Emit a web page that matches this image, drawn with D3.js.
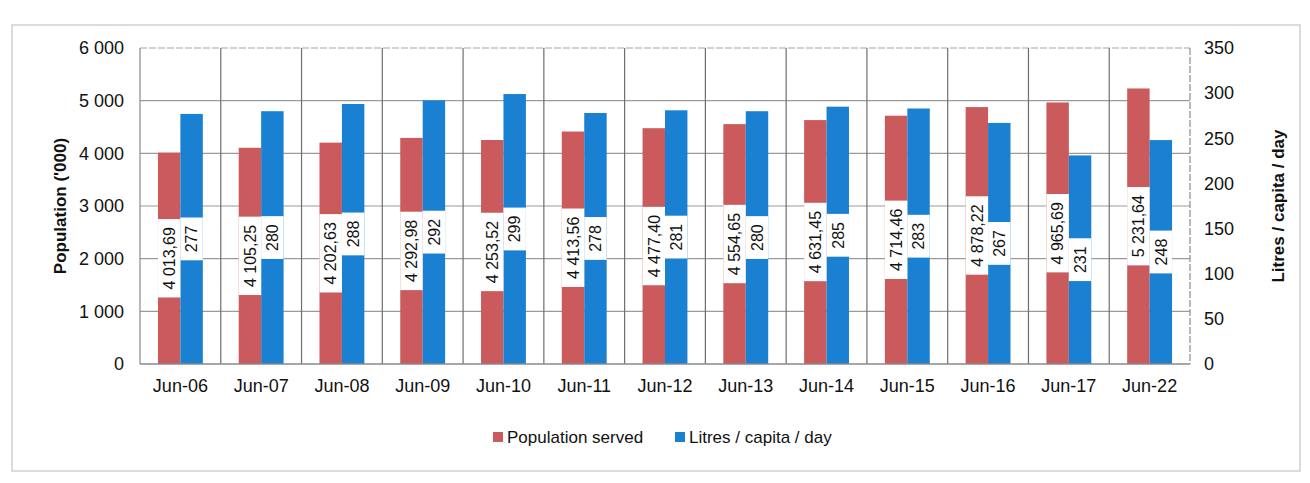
<!DOCTYPE html>
<html lang="en">
<head>
<meta charset="UTF-8">
<style>
  body { margin: 0; background: #fff; }
  svg { display: block; }
  text { font-family: "Liberation Sans", Arial, sans-serif; fill: #111; }
</style>
</head>
<body>
<script src="https://d3js.org/d3.v7.min.js"></script>
<script>
// categories and series
var months = ["Jun-06", "Jun-07", "Jun-08", "Jun-09", "Jun-10", "Jun-11", "Jun-12",
              "Jun-13", "Jun-14", "Jun-15", "Jun-16", "Jun-17", "Jun-22"];
var population = [4013.69, 4105.25, 4202.63, 4292.98, 4253.52, 4413.56, 4477.40,
                  4554.65, 4631.45, 4714.46, 4878.22, 4965.69, 5231.64];
var litres = [277, 280, 288, 292, 299, 278, 281, 280, 285, 283, 267, 231, 248];
var popTicks = [0, 1000, 2000, 3000, 4000, 5000, 6000];
var litreTicks = [0, 50, 100, 150, 200, 250, 300, 350];
var seriesNames = ["Population served", "Litres / capita / day"];

var width = 1310, height = 483;
var plotLeft = 140, plotRight = 1190, plotTop = 48, plotBottom = 364;
var red = "#cb5a5d", blue = "#1a80d2";

var svg = d3.select("body").append("svg")
    .attr("width", width)
    .attr("height", height);

// outer frame
svg.append("rect")
    .attr("x", 12).attr("y", 25)
    .attr("width", 1288).attr("height", 446)
    .attr("fill", "none").attr("stroke", "#cfcfcf").attr("stroke-width", 1.5);

var x = d3.scaleBand().domain(months).range([plotLeft, plotRight]).padding(0);
var x1 = d3.scaleBand().domain([0, 1]).range([0, x.bandwidth()]).paddingOuter(0.8).paddingInner(0);
var yL = d3.scaleLinear().domain([0, 6000]).range([plotBottom, plotTop]);
var yR = d3.scaleLinear().domain([0, 350]).range([plotBottom, plotTop]);

// horizontal gridlines
svg.append("g").selectAll("line")
    .data(popTicks.slice(1, -1))
    .enter().append("line")
    .attr("x1", plotLeft).attr("x2", plotRight)
    .attr("y1", function(d) { return yL(d); })
    .attr("y2", function(d) { return yL(d); })
    .attr("stroke", "#9a9a9a").attr("stroke-width", 1.2);

// top border dashed
svg.append("line")
    .attr("x1", plotLeft).attr("x2", plotRight)
    .attr("y1", plotTop).attr("y2", plotTop)
    .attr("stroke", "#a5a5a5").attr("stroke-width", 1.2)
    .attr("stroke-dasharray", "7,2");

// vertical gridlines between categories
svg.append("g").selectAll("line")
    .data(months.slice(1))
    .enter().append("line")
    .attr("x1", function(d) { return x(d); })
    .attr("x2", function(d) { return x(d); })
    .attr("y1", plotTop).attr("y2", plotBottom)
    .attr("stroke", "#6e6e6e").attr("stroke-width", 1.2);

// bars
var groups = svg.append("g").selectAll("g")
    .data(months)
    .enter().append("g")
    .attr("transform", function(d) { return "translate(" + x(d) + ",0)"; });

groups.append("rect")
    .attr("x", x1(0)).attr("width", x1.bandwidth())
    .attr("y", function(d, i) { return yL(population[i]); })
    .attr("height", function(d, i) { return plotBottom - yL(population[i]); })
    .attr("fill", red);

groups.append("rect")
    .attr("x", x1(1)).attr("width", x1.bandwidth())
    .attr("y", function(d, i) { return yR(litres[i]); })
    .attr("height", function(d, i) { return plotBottom - yR(litres[i]); })
    .attr("fill", blue);

// axes
svg.append("line").attr("x1", plotLeft).attr("x2", plotLeft).attr("y1", plotTop).attr("y2", plotBottom)
    .attr("stroke", "#8a8a8a").attr("stroke-width", 1.2);
svg.append("line").attr("x1", plotRight).attr("x2", plotRight).attr("y1", plotTop).attr("y2", plotBottom)
    .attr("stroke", "#8a8a8a").attr("stroke-width", 1.2).attr("stroke-dasharray", "7,2");
svg.append("line").attr("x1", plotLeft).attr("x2", plotRight).attr("y1", plotBottom).attr("y2", plotBottom)
    .attr("stroke", "#8a8a8a").attr("stroke-width", 1.5);

var fmtPop = function(v) {
    var s = v.toFixed(2).split(".");
    return s[0].replace(/\B(?=(\d{3})+(?!\d))/g, " ") + "," + s[1];
};

// data labels, rotated, on white boxes
function addLabel(g, cx, cy, txt) {
    var lg = g.append("g").attr("transform", "translate(" + cx + "," + cy + ") rotate(-90)");
    var t = lg.append("text")
        .attr("text-anchor", "middle")
        .attr("dy", "0.36em")
        .style("font-size", "16px")
        .text(txt);
    var b = t.node().getBBox();
    var bw = x1.bandwidth();
    lg.insert("rect", "text")
        .attr("x", b.x - 8).attr("y", -bw / 2)
        .attr("width", b.width + 16).attr("height", bw)
        .attr("fill", "#fff");
}

groups.each(function(d, i) {
    var g = d3.select(this);
    addLabel(g, x1(0) + x1.bandwidth() / 2, (yL(population[i]) + plotBottom) / 2, fmtPop(population[i]));
    addLabel(g, x1(1) + x1.bandwidth() / 2, (yR(litres[i]) + plotBottom) / 2, litres[i]);
});

// left axis ticks
var yAxisL = d3.axisLeft(yL).tickValues(popTicks).tickSize(0).tickPadding(16)
    .tickFormat(function(d) { return d3.format(",")(d).replace(/,/g, " "); });
svg.append("g").attr("transform", "translate(" + plotLeft + ",0)").call(yAxisL)
    .call(function(g) { g.select(".domain").remove(); })
    .selectAll("text").style("font-size", "18px")
    .style("font-family", "\"Liberation Sans\", Arial, sans-serif").attr("fill", "#111");

var yAxisR = d3.axisRight(yR).tickValues(litreTicks).tickSize(0).tickPadding(14);
svg.append("g").attr("transform", "translate(" + plotRight + ",0)").call(yAxisR)
    .call(function(g) { g.select(".domain").remove(); })
    .selectAll("text").style("font-size", "18px")
    .style("font-family", "\"Liberation Sans\", Arial, sans-serif").attr("fill", "#111");

var xAxis = d3.axisBottom(x).tickSize(0).tickPadding(15);
svg.append("g").attr("transform", "translate(0," + plotBottom + ")").call(xAxis)
    .call(function(g) { g.select(".domain").remove(); })
    .selectAll("text").style("font-size", "18px")
    .style("font-family", "\"Liberation Sans\", Arial, sans-serif").attr("fill", "#111");

// axis titles
svg.append("text")
    .attr("transform", "translate(66," + (plotTop + plotBottom) / 2 + ") rotate(-90)")
    .attr("text-anchor", "middle")
    .style("font-size", "17px").style("font-weight", "bold")
    .text("Population ('000)");

svg.append("text")
    .attr("transform", "translate(1284," + (plotTop + plotBottom) / 2 + ") rotate(-90)")
    .attr("text-anchor", "middle")
    .style("font-size", "17px").style("font-weight", "bold")
    .text("Litres / capita / day");

// legend
var legend = svg.append("g").attr("transform", "translate(493,437)");
var lx = [0, 182];
seriesNames.forEach(function(name, i) {
    legend.append("rect")
        .attr("x", lx[i]).attr("y", -5)
        .attr("width", 10).attr("height", 10)
        .attr("fill", i === 0 ? red : blue);
    legend.append("text")
        .attr("x", lx[i] + 14).attr("y", 0)
        .attr("dy", "0.36em")
        .style("font-size", "17px")
        .text(name);
});
</script>
</body>
</html>
